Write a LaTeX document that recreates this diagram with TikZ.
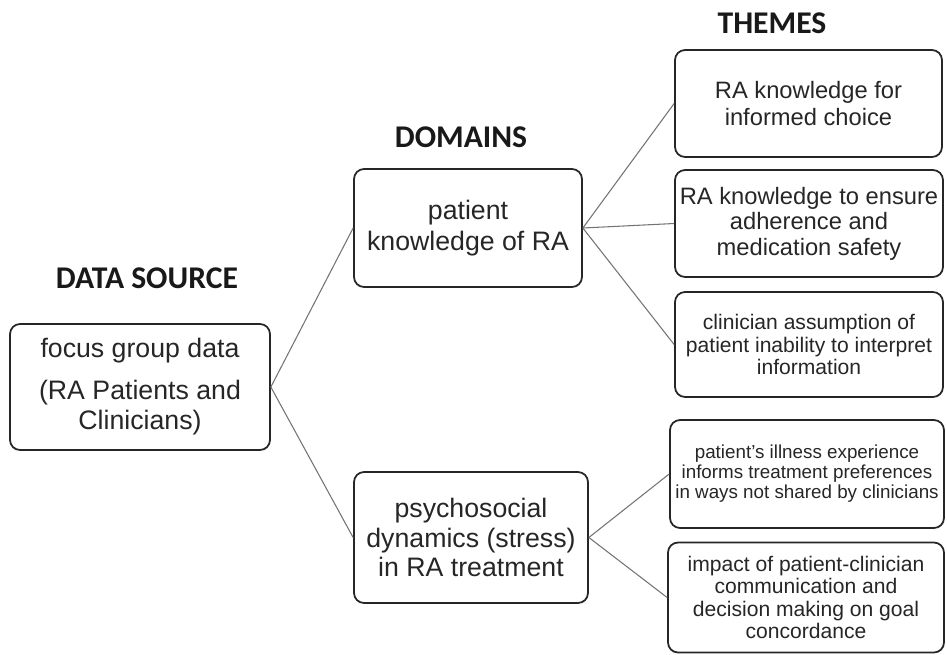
\documentclass[tikz,border=0pt]{standalone}
\usepackage{fontspec}
\setmainfont{Liberation Sans}
\newfontfamily\headfont{Carlito}
\usepackage{tikz}
\usepackage{xcolor}

\begin{document}
\begin{tikzpicture}[x=0.02cm,y=-0.02cm,
    box/.style={draw=black!85, line width=1pt, rounded corners=0.2cm, align=center, text=black!85, inner sep=1pt},
    head/.style={font=\headfont\bfseries\fontsize{18}{21}\selectfont, text=black!90},
    link/.style={draw=black!55, line width=0.6pt}]
                \useasboundingbox (0,0) rectangle (947,654);
                % headings
                \node[head] (hsource) at (147,278) {DATA SOURCE};
                \node[head] (hdomain) at (461,137) {DOMAINS};
                \node[head] (htheme) at (772,23) {THEMES};
                % boxes
                \node[box, minimum width=5.2cm, minimum height=2.52cm, font=\fontsize{15.2}{17.5}\selectfont] (source) at (140,387) {focus group data\\[6pt](RA Patients and\\Clinicians)};
                \node[box, minimum width=4.56cm, minimum height=2.36cm, font=\fontsize{15.2}{17.5}\selectfont] (know) at (468,228) {patient\\knowledge of RA};
                \node[box, minimum width=4.68cm, minimum height=2.62cm, font=\fontsize{15.2}{17}\selectfont] (psycho) at (471,537.5) {psychosocial\\dynamics (stress)\\in RA treatment};
                \node[box, minimum width=5.34cm, minimum height=2.14cm, font=\fontsize{13.5}{15}\selectfont] (choice) at (808.5,103.5) {RA knowledge for\\informed choice};
                \node[box, minimum width=5.36cm, minimum height=2.14cm, font=\fontsize{13.5}{14.5}\selectfont] (safety) at (809,223.5) {RA knowledge to ensure\\adherence and\\medication safety};
                \node[box, minimum width=5.36cm, minimum height=2.1cm, font=\fontsize{12}{13}\selectfont] (assume) at (809,344.5) {clinician assumption of\\patient inability to interpret\\information};
                \node[box, minimum width=5.48cm, minimum height=2.16cm, font=\fontsize{10.7}{11.4}\selectfont] (illness) at (807,474) {patient's illness experience\\informs treatment preferences\\in ways not shared by clinicians};
                \node[box, minimum width=5.52cm, minimum height=2.2cm, font=\fontsize{12}{12.6}\selectfont] (impact) at (806,597.5) {impact of patient-clinician\\communication and\\decision making on goal\\concordance};
                % connectors
                \draw[link] (source.east) -- (know.west);
                \draw[link] (source.east) -- (psycho.west);
                \draw[link] (know.east) -- (choice.west);
                \draw[link] (know.east) -- (safety.west);
                \draw[link] (know.east) -- (assume.west);
                \draw[link] (psycho.east) -- (illness.west);
                \draw[link] (psycho.east) -- (impact.west);
            \end{tikzpicture}
\end{document}
